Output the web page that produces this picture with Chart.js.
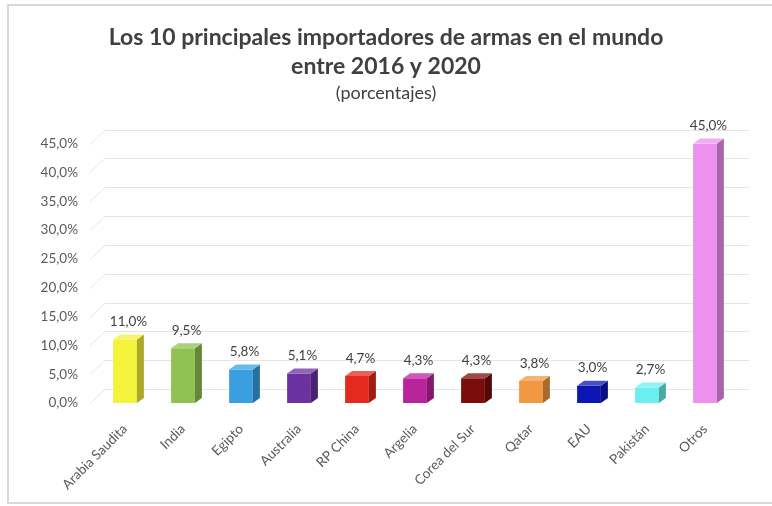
<!DOCTYPE html>
<html>
<head>
<meta charset="utf-8">
<script src="https://cdn.jsdelivr.net/npm/chart.js@4/dist/chart.umd.min.js"></script>
<style>
  html, body { margin: 0; padding: 0; background: #ffffff; }
  #wrap { width: 772px; height: 506px; }
</style>
</head>
<body>
<div id="wrap"><canvas id="c" width="772" height="506"></canvas></div>
<script>
// Importadores de armas 2016-2020, porcentaje del total mundial
const paises = ['Arabia Saudita', 'India', 'Egipto', 'Australia', 'RP China', 'Argelia',
                'Corea del Sur', 'Qatar', 'EAU', 'Pakistán', 'Otros'];
const porcentajes = [11.0, 9.5, 5.8, 5.1, 4.7, 4.3, 4.3, 3.8, 3.0, 2.7, 45.0];
const colores = ['#f4f23a', '#8fc252', '#3a9fe0', '#6b31a0', '#e42a1e', '#b9239c',
                 '#7c0d0d', '#f19841', '#0b16b5', '#6cefef', '#ee91ee'];
const ticksY = [0, 5, 10, 15, 20, 25, 30, 35, 40, 45];

const FONT = 'Lato, "Open Sans", sans-serif';
const GRID_DX = 15, GRID_DY = -14;   // profundidad del fondo del gráfico
const BAR_DX = 7, BAR_DY = -5;       // profundidad de cada columna

const fmt = v => v.toFixed(1).replace('.', ',') + '%';

function shade(hex, f) {
  const n = parseInt(hex.slice(1), 16);
  let r = (n >> 16) & 255, g = (n >> 8) & 255, b = n & 255;
  if (f < 0) { r *= (1 + f); g *= (1 + f); b *= (1 + f); }
  else { r += (255 - r) * f; g += (255 - g) * f; b += (255 - b) * f; }
  return `rgb(${Math.round(r)},${Math.round(g)},${Math.round(b)})`;
}

// Marco y cuadrícula en perspectiva (detrás de las columnas)
const fondo3D = {
  id: 'fondo3D',
  beforeDraw(chart) {
    const ctx = chart.ctx;
    ctx.save();
    ctx.strokeStyle = '#d9d9d9';
    ctx.lineWidth = 2;
    ctx.strokeRect(8, 5, 800, 498);
    ctx.restore();
  },
  beforeDatasetsDraw(chart) {
    const { ctx, chartArea, scales } = chart;
    const y = scales.y;
    ctx.save();
    ctx.strokeStyle = '#e5e5e5';
    ctx.lineWidth = 1;
    ticksY.forEach(t => {
      const py = Math.round(y.getPixelForValue(t)) + 0.5;
      const x0 = chartArea.left - 6;
      ctx.beginPath();
      ctx.moveTo(x0, py);
      ctx.lineTo(x0 + GRID_DX, py + GRID_DY);
      ctx.lineTo(chartArea.right + GRID_DX, py + GRID_DY);
      ctx.stroke();
    });
    ctx.restore();
  },
  afterDatasetsDraw(chart) {
    const ctx = chart.ctx;
    const meta = chart.getDatasetMeta(0);
    ctx.save();
    meta.data.forEach((bar, i) => {
      const w = bar.width, l = bar.x - w / 2, r = bar.x + w / 2;
      const top = bar.y, base = bar.base;
      const c = colores[i];
      // cara lateral
      ctx.fillStyle = shade(c, -0.3);
      ctx.beginPath();
      ctx.moveTo(r, top);
      ctx.lineTo(r + BAR_DX, top + BAR_DY);
      ctx.lineTo(r + BAR_DX, base + BAR_DY);
      ctx.lineTo(r, base);
      ctx.closePath();
      ctx.fill();
      // cara superior
      ctx.fillStyle = shade(c, 0.25);
      ctx.beginPath();
      ctx.moveTo(l, top);
      ctx.lineTo(l + BAR_DX, top + BAR_DY);
      ctx.lineTo(r + BAR_DX, top + BAR_DY);
      ctx.lineTo(r, top);
      ctx.closePath();
      ctx.fill();
      // etiqueta de valor
      ctx.fillStyle = '#404040';
      ctx.font = '13.5px ' + FONT;
      ctx.textAlign = 'center';
      ctx.textBaseline = 'bottom';
      ctx.fillText(fmt(porcentajes[i]), bar.x + BAR_DX / 2, top + BAR_DY - 6);
    });
    ctx.restore();
  }
};

new Chart(document.getElementById('c'), {
  type: 'bar',
  data: {
    labels: paises,
    datasets: [{
      data: porcentajes,
      backgroundColor: colores,
      borderWidth: 0,
      barPercentage: 0.41,
      categoryPercentage: 1.0
    }]
  },
  options: {
    responsive: false,
    animation: false,
    devicePixelRatio: 1,
    layout: { padding: { left: 38, right: 38, top: 0, bottom: 0 } },
    plugins: {
      legend: { display: false },
      tooltip: { enabled: false },
      title: {
        display: true,
        text: ['Los 10 principales importadores de armas en el mundo', 'entre 2016 y 2020'],
        color: '#404040',
        font: { family: FONT, size: 23, weight: 'bold', lineHeight: 1.25 },
        padding: { top: 23.5, bottom: 0 }
      },
      subtitle: {
        display: true,
        text: '(porcentajes)',
        color: '#404040',
        font: { family: FONT, size: 18, lineHeight: 1.2 },
        padding: { top: 1, bottom: 40 }
      }
    },
    scales: {
      x: {
        grid: { display: false, drawTicks: false },
        border: { display: false },
        ticks: {
          color: '#595959',
          font: { family: FONT, size: 13.5 },
          minRotation: 45, maxRotation: 45,
          padding: 18
        },
        afterFit(s) { s.height = 103; }
      },
      y: {
        min: 0, max: 45,
        afterBuildTicks(s) { s.ticks = ticksY.map(v => ({ value: v })); },
        grid: { display: false, drawTicks: false },
        border: { display: false },
        ticks: {
          color: '#595959',
          font: { family: FONT, size: 13.5 },
          padding: 18,
          callback: v => fmt(v)
        },
        afterFit(s) { s.width = 58; }
      }
    }
  },
  plugins: [fondo3D]
});
</script>
</body>
</html>
